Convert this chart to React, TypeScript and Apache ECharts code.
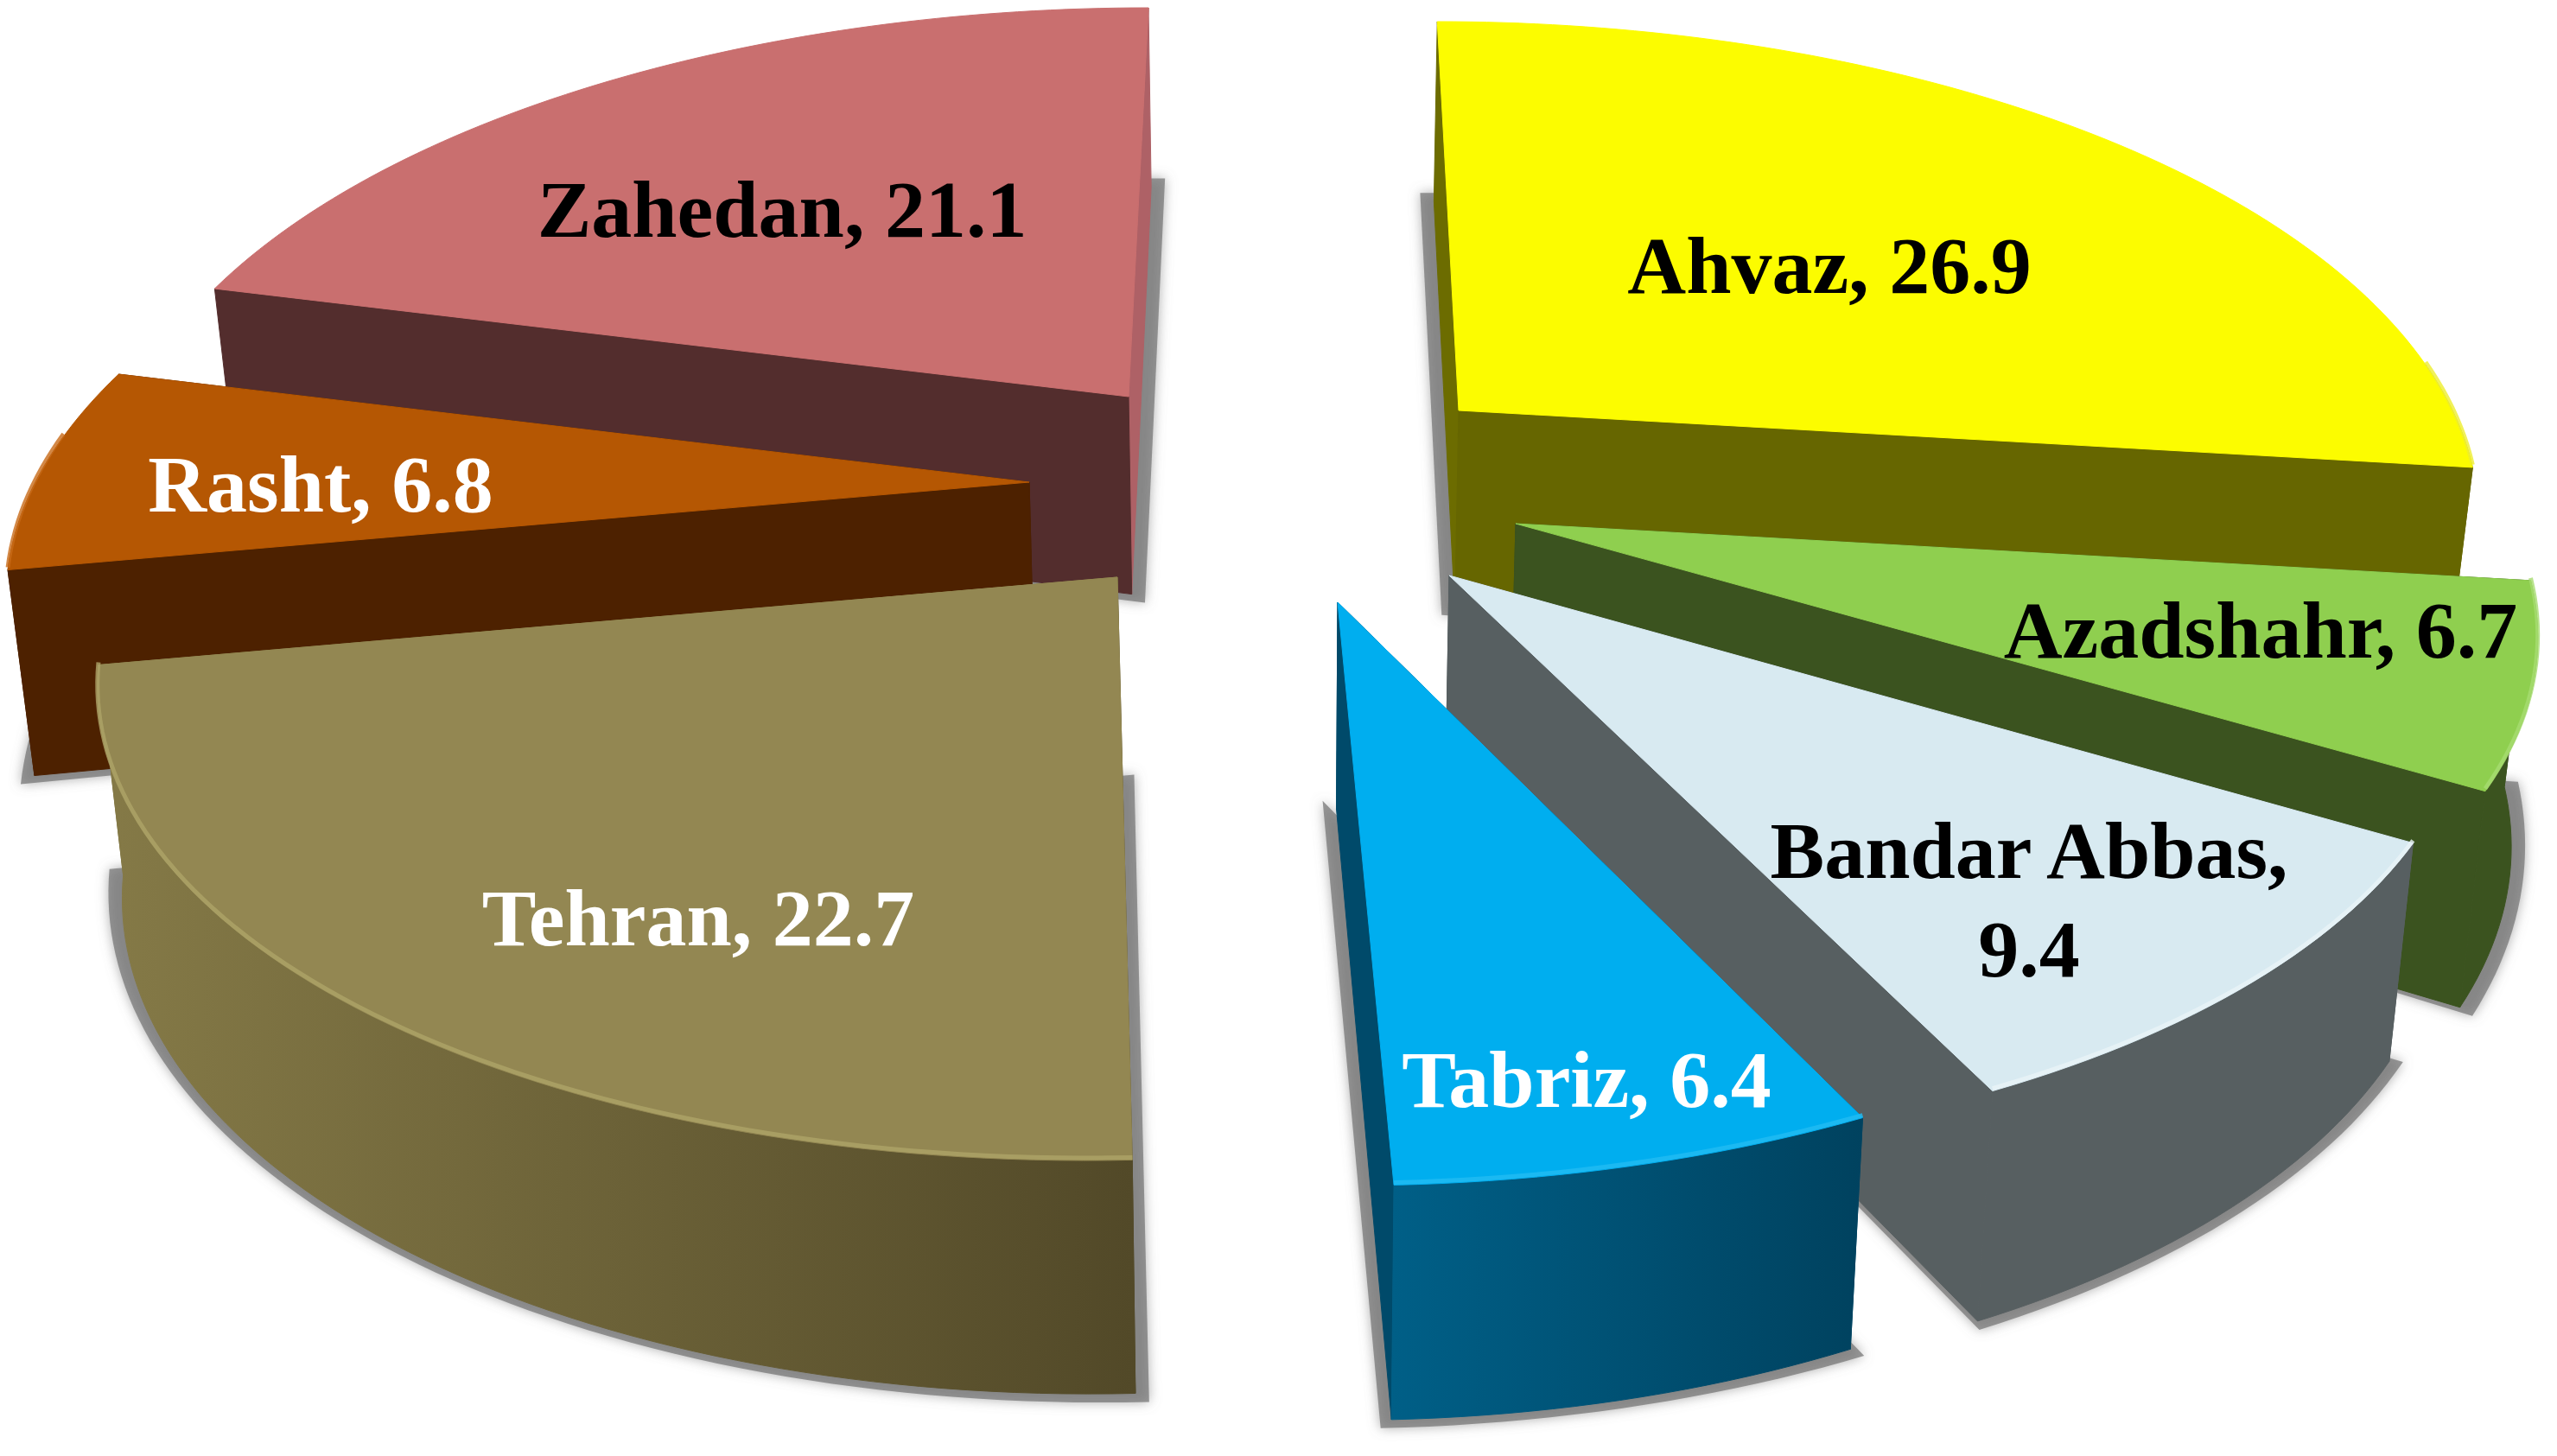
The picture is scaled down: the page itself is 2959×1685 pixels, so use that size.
import React, { useEffect, useRef } from "react";
import * as echarts from "echarts";

// ---- data (percent share per city, clockwise from 12 o'clock)
const cities = ["Ahvaz", "Azadshahr", "Bandar Abbas", "Tabriz", "Tehran", "Rasht", "Zahedan"];
const shares = [26.9, 6.7, 9.4, 6.4, 22.7, 6.8, 21.1];

// ---- layout / style, kept apart from the data
const paintOrder = [6, 5, 4, 0, 1, 2, 3];
const explodedApex = [[1688, 475], [1754, 606], [1677, 666], [1548, 697], [1293, 668], [1191, 558], [1306, 459]];
const labelAt = [[2117, 307], [2616, 729], [2348, 1041], [1836, 1249], [808, 1062], [371, 560], [905, 242]];
const labelBreak = [", ", ", ", ",\n", ", ", ", ", ", ", ", "];
const labelFill = ["#000", "#000", "#000", "#fff", "#fff", "#fff", "#000"];
const topFill = ["#FCFC00", "#8FCF4F", "#D8EAF1", "#00AEEF", "#938752", "#B55703", "#C96F6F"];
const startWall = ["#6C6C00", "#3B531F", "#575F61", "#004A6A", "#544B2B", "#4D2100", "#532D2D"];
const endWall = ["#666600", "#3B531F", "#575F61", "#004A6A", "#857A47", "#4D2100", "#AE6166"];
const rimLeft = ["#666600", "#3B531F", "#575F61", "#005F87", "#857A47", "#4D2100", "#532D2D"];
const rimRight = ["#666600", "#3B531F", "#575F61", "#00425F", "#524928", "#4D2100", "#532D2D"];
const rimGlow = ["#EDED30", "#A6DC70", "#EAF4F8", "#22BBF2", "#AEA468", "#C86A18", "#D58484"];

// perspective of the disc plane
const RX = 1150, RY = 540, PERSP = 0.2, LEAN = 0.15, VANISH_X = 1490;
// extrusion
const DEPTH_BASE = 207, DEPTH_PER_Y = 0.047, DROP_X = 1480, DROP_SLOPE = 0.021;
const FONT_SIZE = 94;

const total = shares.reduce((a, b) => a + b, 0);
const startAngle = (i: number) => (shares.slice(0, i).reduce((a, b) => a + b, 0) / total) * 2 * Math.PI;
const endAngle = (i: number) => startAngle(i) + (shares[i] / total) * 2 * Math.PI;

const rimPoint = (i: number, t: number) => {
  const [ax, ay] = explodedApex[i];
  const u = Math.sin(t), v = -Math.cos(t), w = 1 - PERSP * v;
  return [ax + (RX * u + (ax - VANISH_X) * LEAN * v) / w, ay + (RY * v) / w];
};
const drop = (p: number[]) => [
  p[0] - (p[0] - DROP_X) * DROP_SLOPE,
  p[1] + DEPTH_BASE + DEPTH_PER_Y * p[1],
];
const arc = (i: number, a: number, b: number) => {
  const n = Math.max(2, Math.ceil(Math.abs(b - a) / 0.02));
  const pts: number[][] = [];
  for (let k = 0; k <= n; k++) pts.push(rimPoint(i, a + ((b - a) * k) / n));
  return pts;
};
const poly = (points: number[][], fill: any) => ({
  type: "polygon",
  shape: { points },
  style: { fill, stroke: fill, lineWidth: 1 },
  silent: true,
});

function renderShadow(_p: any, api: any) {
  const i = api.value(0);
  const base = [explodedApex[i], ...arc(i, startAngle(i), endAngle(i))].map(drop);
  const xs = base.map((p) => p[0]), ys = base.map((p) => p[1]);
  const cx = (Math.min(...xs) + Math.max(...xs)) / 2, cy = (Math.min(...ys) + Math.max(...ys)) / 2;
  const sx = 1 + 16 / ((Math.max(...xs) - Math.min(...xs)) / 2);
  const sy = 1 + 10 / ((Math.max(...ys) - Math.min(...ys)) / 2);
  const pts = base.map((p) => [cx + (p[0] - cx) * sx, cy + (p[1] - cy) * sy]);
  return {
    type: "polygon",
    shape: { points: pts },
    style: { fill: "rgba(120,120,120,0.75)", shadowBlur: 14, shadowColor: "rgba(120,120,120,0.8)" },
    silent: true,
  };
}

function renderSlice(_p: any, api: any) {
  const i = api.value(0);
  const a = startAngle(i), b = endAngle(i);
  const apex = explodedApex[i];
  const edge = (t: number, fill: string) => {
    const p = rimPoint(i, t);
    return poly([apex, p, drop(p), drop(apex)], fill);
  };
  const startV = -Math.cos(a), endV = -Math.cos(b);
  const walls = startV < endV ? [edge(a, startWall[i]), edge(b, endWall[i])] : [edge(b, endWall[i]), edge(a, startWall[i])];

  const children: any[] = [...walls];
  // outer wall: only the part of the rim that faces the viewer
  const ranges: number[][] = [];
  const fa = Math.max(a, Math.PI / 2 - 0.1), fb = Math.min(b, (3 * Math.PI) / 2 + 0.1);
  if (fb > fa) ranges.push([fa, fb]);
  for (const [f, g] of ranges) {
    const rim = arc(i, f, g);
    children.push(
      poly([...rim, ...rim.map(drop).reverse()], new echarts.graphic.LinearGradient(0, 0, 1, 0, [
        { offset: 0, color: rimLeft[i] },
        { offset: 1, color: rimRight[i] },
      ]))
    );
  }
  const top = arc(i, a, b);
  children.push(poly([apex, ...top], topFill[i]));
  if (fb > fa) {
    children.push({
      type: "polyline",
      shape: { points: arc(i, fa, fb).map((p) => [p[0], p[1] - 3]) },
      style: { stroke: rimGlow[i], lineWidth: 5, fill: "none", opacity: 0.8 },
      silent: true,
    });
  }
  children.push({
    type: "text",
    x: labelAt[i][0],
    y: labelAt[i][1],
    style: {
      text: `${cities[i]}${labelBreak[i]}${shares[i].toFixed(1)}`,
      fill: labelFill[i],
      fontFamily: "Liberation Serif",
      fontWeight: "bold",
      fontSize: FONT_SIZE,
      lineHeight: 114,
      align: "center",
      verticalAlign: "middle",
    },
    silent: true,
  });
  return { type: "group", children };
}

export default function App() {
  const ref = useRef<HTMLDivElement>(null);
  useEffect(() => {
    document.body.style.margin = "0";
    const chart = echarts.init(ref.current!, undefined, { renderer: "svg" });
    const rows = paintOrder.map((i) => [i, shares[i]]);
    chart.setOption({
      animation: false,
      backgroundColor: "#ffffff",
      series: [
        { type: "custom", coordinateSystem: "none", z: 1, data: rows, renderItem: renderShadow, encode: { value: [0, 1] } },
        { type: "custom", coordinateSystem: "none", z: 2, data: rows, renderItem: renderSlice, encode: { value: [0, 1] } },
      ],
    });
    return () => chart.dispose();
  }, []);
  return <div ref={ref} style={{ width: 2959, height: 1685 }} />;
}
